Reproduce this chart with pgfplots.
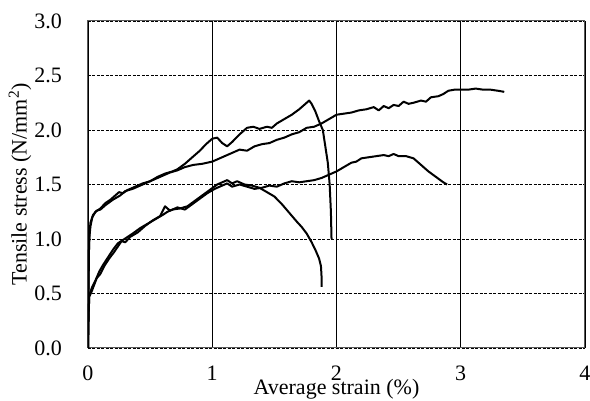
\documentclass[border=0pt]{standalone}
\usepackage{pgfplots}
\pgfplotsset{compat=1.18}
\usepackage{fontspec}
\setmainfont{Liberation Serif}
\tikzset{curve/.style={black, line width=2pt, line join=round, mark=none}}
\begin{document}
\begin{tikzpicture}
\begin{axis}[
  scale only axis, width=497pt, height=327pt,
  xmin=0, xmax=4, ymin=0, ymax=3,
  xtick={0,1,2,3,4}, ytick={0,0.5,1,1.5,2,2.5,3},
  major tick length=0pt,
  axis line style={draw=black!65, line width=1pt},
  xmajorgrids, ymajorgrids,
  x grid style={black, line width=0.8pt},
  y grid style={black, line width=0.7pt, dash pattern=on 3pt off 1.5pt},
  font=\fontsize{22}{25}\selectfont,
  /pgf/number format/assume math mode=true,
  yticklabel style={/pgf/number format/fixed, /pgf/number format/fixed zerofill, /pgf/number format/precision=1, inner sep=0pt, anchor=east, xshift=-26pt},
  xticklabel style={inner sep=0pt, anchor=north, yshift=-18pt},
  xlabel={Average strain (\%)},
  ylabel={Tensile stress (N/mm\textsuperscript{2})},
  xlabel style={at={([yshift=-41pt]axis description cs:0.5,0)}, anchor=center, inner sep=0pt},
  ylabel style={at={([xshift=-68pt]axis description cs:0,0.5)}, anchor=center, inner sep=0pt},
]
% Curve A
\addplot[curve] coordinates {(0,0) (0.003,0.4) (0.006,0.8) (0.01,1.0) (0.02,1.12) (0.035,1.2) (0.06,1.25) (0.1,1.28) (0.14,1.33) (0.18,1.36) (0.22,1.40) (0.25,1.43) (0.28,1.42) (0.32,1.45) (0.38,1.48) (0.44,1.51) (0.5,1.53) (0.56,1.57) (0.62,1.60) (0.68,1.62) (0.72,1.64) (0.78,1.69) (0.84,1.75) (0.9,1.81) (0.95,1.87) (1.0,1.92) (1.04,1.93) (1.08,1.88) (1.12,1.85) (1.16,1.89) (1.22,1.96) (1.28,2.02) (1.33,2.03) (1.38,2.01) (1.44,2.03) (1.48,2.02) (1.52,2.06) (1.58,2.10) (1.64,2.14) (1.70,2.19) (1.75,2.24) (1.78,2.27) (1.80,2.24) (1.83,2.17) (1.86,2.08) (1.89,2.00) (1.91,1.85) (1.93,1.70) (1.945,1.50) (1.955,1.25) (1.96,1.00)};
% Curve B
\addplot[curve] coordinates {(0,0) (0.004,0.5) (0.008,0.9) (0.012,1.05) (0.02,1.15) (0.04,1.22) (0.07,1.26) (0.1,1.27) (0.14,1.31) (0.2,1.36) (0.26,1.40) (0.3,1.44) (0.36,1.46) (0.42,1.49) (0.48,1.52) (0.54,1.55) (0.6,1.58) (0.66,1.61) (0.72,1.63) (0.78,1.66) (0.85,1.68) (0.92,1.69) (1.0,1.71) (1.06,1.74) (1.12,1.77) (1.18,1.80) (1.22,1.82) (1.28,1.81) (1.34,1.85) (1.40,1.87) (1.46,1.88) (1.52,1.91) (1.58,1.93) (1.64,1.96) (1.70,1.98) (1.76,2.02) (1.82,2.03) (1.88,2.06) (1.94,2.10) (2.0,2.14) (2.06,2.15) (2.12,2.16) (2.18,2.18) (2.24,2.19) (2.3,2.21) (2.34,2.18) (2.38,2.22) (2.42,2.20) (2.46,2.23) (2.50,2.22) (2.54,2.26) (2.58,2.24) (2.62,2.25) (2.68,2.27) (2.72,2.26) (2.76,2.30) (2.82,2.31) (2.86,2.33) (2.9,2.36) (2.95,2.37) (3.0,2.37) (3.06,2.37) (3.12,2.38) (3.18,2.37) (3.24,2.37) (3.30,2.36) (3.35,2.35)};
% Curve C
\addplot[curve] coordinates {(0,0) (0.005,0.3) (0.01,0.48) (0.03,0.55) (0.06,0.62) (0.09,0.70) (0.12,0.76) (0.16,0.83) (0.2,0.90) (0.24,0.96) (0.28,0.99) (0.32,1.02) (0.36,1.05) (0.42,1.10) (0.48,1.14) (0.54,1.18) (0.6,1.22) (0.64,1.25) (0.68,1.27) (0.74,1.28) (0.8,1.30) (0.86,1.35) (0.92,1.40) (0.98,1.45) (1.04,1.50) (1.08,1.52) (1.12,1.54) (1.16,1.51) (1.2,1.53) (1.26,1.50) (1.32,1.49) (1.38,1.47) (1.44,1.43) (1.5,1.39) (1.56,1.32) (1.62,1.24) (1.68,1.16) (1.72,1.11) (1.76,1.05) (1.80,0.97) (1.83,0.90) (1.86,0.82) (1.875,0.75) (1.88,0.65) (1.88,0.56)};
% Curve D
\addplot[curve] coordinates {(0,0) (0.005,0.3) (0.01,0.47) (0.03,0.52) (0.05,0.58) (0.07,0.64) (0.1,0.68) (0.13,0.75) (0.17,0.82) (0.21,0.88) (0.24,0.93) (0.27,0.98) (0.3,0.97) (0.34,1.02) (0.4,1.06) (0.46,1.12) (0.52,1.17) (0.58,1.21) (0.62,1.30) (0.66,1.26) (0.72,1.29) (0.78,1.27) (0.84,1.32) (0.9,1.37) (0.96,1.42) (1.02,1.46) (1.08,1.49) (1.12,1.51) (1.16,1.48) (1.22,1.50) (1.28,1.48) (1.34,1.46) (1.4,1.47) (1.46,1.49) (1.52,1.48) (1.58,1.51) (1.64,1.53) (1.70,1.52) (1.76,1.53) (1.82,1.54) (1.88,1.56) (1.94,1.59) (2.0,1.62) (2.06,1.66) (2.12,1.70) (2.16,1.71) (2.2,1.74) (2.26,1.75) (2.32,1.76) (2.38,1.77) (2.42,1.76) (2.46,1.78) (2.5,1.76) (2.56,1.76) (2.62,1.74) (2.68,1.68) (2.74,1.62) (2.8,1.57) (2.86,1.52) (2.89,1.50)};
\end{axis}
\pgfresetboundingbox
\path[use as bounding box] (-88pt,-53pt) rectangle (502pt,348pt);
\end{tikzpicture}
\end{document}
